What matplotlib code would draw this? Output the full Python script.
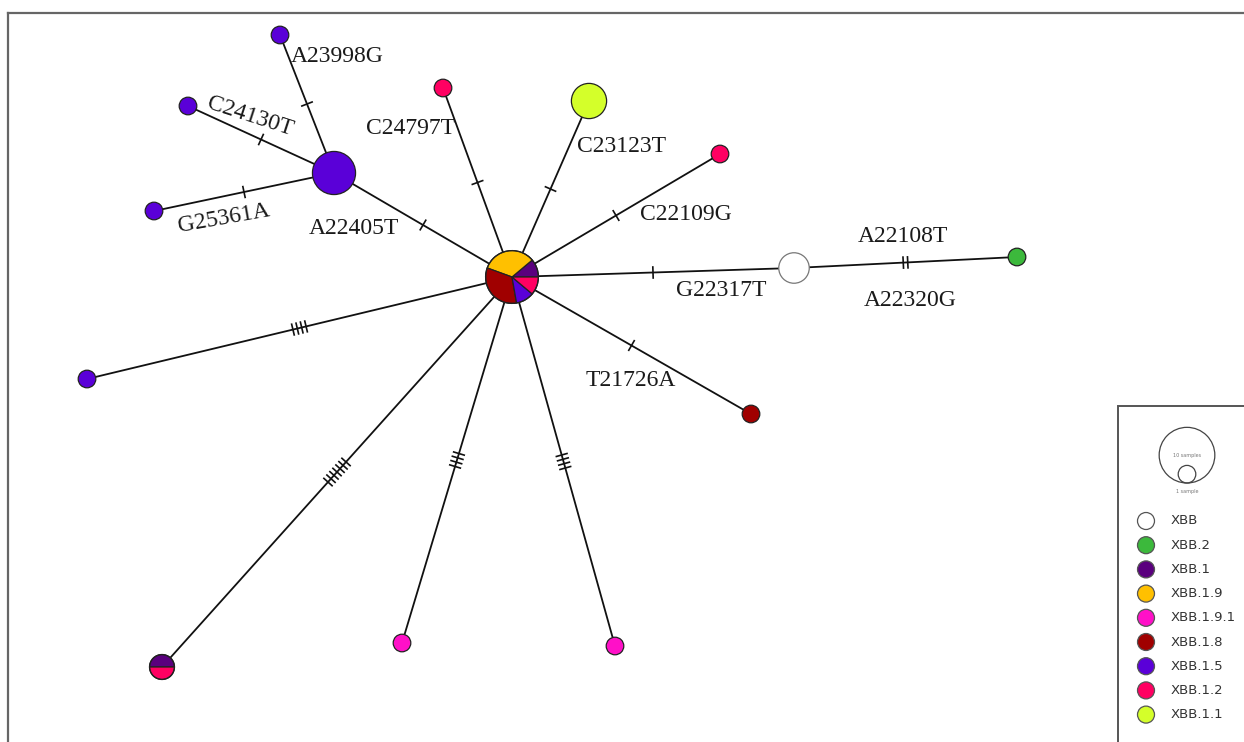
# Haplotype network of XBB lineages
import numpy as np
import matplotlib
matplotlib.use('Agg')
import matplotlib.pyplot as plt
from matplotlib.patches import Circle, Wedge, Rectangle

# Lineages and colours
lineages = ['XBB', 'XBB.2', 'XBB.1', 'XBB.1.9', 'XBB.1.9.1', 'XBB.1.8', 'XBB.1.5', 'XBB.1.2', 'XBB.1.1']
colors = ['#ffffff', '#3cb93c', '#5a007e', '#ffc000', '#ff10c8', '#a00000', '#5a00d8', '#ff0062', '#d4ff2a']

# Haplotype nodes: layout position (pixels) and sample counts per lineage
node_names = ['center', 'hub', 'h23998', 'h24130', 'h25361', 'h24797', 'h23123', 'h22109',
              'h22317', 'h22108', 'h21726', 'far_left', 'bottom_left', 'bottom_mid', 'bottom_right']
node_x = [512, 334, 280, 188, 154, 443, 589, 720, 794, 1017, 751, 87, 162, 402, 615]
node_y = [277, 173, 35, 106, 211, 88, 101, 154, 268, 257, 414, 379, 667, 643, 646]
node_counts = [
    {'XBB.1': 1, 'XBB.1.9': 3, 'XBB.1.8': 3, 'XBB.1.5': 1, 'XBB.1.2': 1},
    {'XBB.1.5': 6},
    {'XBB.1.5': 1},
    {'XBB.1.5': 1},
    {'XBB.1.5': 1},
    {'XBB.1.2': 1},
    {'XBB.1.1': 4},
    {'XBB.1.2': 1},
    {'XBB': 3},
    {'XBB.2': 1},
    {'XBB.1.8': 1},
    {'XBB.1.5': 1},
    {'XBB.1': 1, 'XBB.1.2': 1},
    {'XBB.1.9.1': 1},
    {'XBB.1.9.1': 1},
]

# Edges: (from, to, number of mutations)
edges = [
    ('center', 'hub', 1), ('hub', 'h23998', 1), ('hub', 'h24130', 1), ('hub', 'h25361', 1),
    ('center', 'h24797', 1), ('center', 'h23123', 1), ('center', 'h22109', 1),
    ('center', 'h22317', 1), ('h22317', 'h22108', 2), ('center', 'h21726', 1),
    ('center', 'far_left', 4), ('center', 'bottom_left', 7),
    ('center', 'bottom_mid', 4), ('center', 'bottom_right', 4),
]

# Mutation labels
mut_labels = ['A23998G', 'C24130T', 'G25361A', 'A22405T', 'C24797T', 'C23123T', 'C22109G',
              'A22108T', 'G22317T', 'A22320G', 'T21726A']
mut_x = [337, 250, 224, 354, 411, 622, 686, 903, 721, 910, 631]
mut_y = [56, 117, 219, 229, 128, 146, 214, 236, 291, 300, 381]
mut_rot = [0, -18, 10, 0, 0, 0, 0, 0, 0, 0, 0]

unit_r = 8.8
pos = {n: (x, y) for n, x, y in zip(node_names, node_x, node_y)}
col = dict(zip(lineages, colors))

fig = plt.figure(figsize=(12.44, 7.42), dpi=100)
ax = fig.add_axes([0, 0, 1, 1])
ax.set_xlim(0, 1244)
ax.set_ylim(742, 0)
ax.axis('off')

# frame lines (top and left)
ax.plot([8, 1244], [13, 13], color='#666666', lw=1.6, zorder=1)
ax.plot([8, 8], [13, 742], color='#666666', lw=1.6, zorder=1)

# edges and mutation ticks
for a, b, k in edges:
    (x1, y1), (x2, y2) = pos[a], pos[b]
    ax.plot([x1, x2], [y1, y2], color='#111111', lw=1.3, zorder=2)
    d = np.array([x2 - x1, y2 - y1], dtype=float)
    d /= np.hypot(*d)
    nrm = np.array([-d[1], d[0]])
    mx, my = (x1 + x2) / 2, (y1 + y2) / 2
    for i in range(k):
        off = (i - (k - 1) / 2) * 4.5
        cx, cy = mx + d[0] * off, my + d[1] * off
        ax.plot([cx - nrm[0] * 5.5, cx + nrm[0] * 5.5], [cy - nrm[1] * 5.5, cy + nrm[1] * 5.5],
                color='#111111', lw=1.2, zorder=2)

# nodes (pie charts); display angle goes counter-clockwise, y axis is flipped
for name in node_names:
    counts = node_counts[node_names.index(name)]
    total = sum(counts.values())
    r = unit_r * np.sqrt(total)
    x, y = pos[name]
    if len(counts) == 1:
        lin = list(counts)[0]
        ec = '#777777' if lin == 'XBB' else '#222222'
        ax.add_patch(Circle((x, y), r, facecolor=col[lin], edgecolor=ec, lw=0.9, zorder=3))
        continue
    start = 0.0
    for lin in lineages:
        if lin not in counts:
            continue
        span = 360.0 * counts[lin] / total
        ax.add_patch(Wedge((x, y), r, -(start + span), -start, facecolor=col[lin],
                           edgecolor='#222222', lw=0.9, zorder=3))
        start += span
    ax.add_patch(Circle((x, y), r, facecolor='none', edgecolor='#222222', lw=0.9, zorder=4))

# mutation labels
for t, x, y, rot in zip(mut_labels, mut_x, mut_y, mut_rot):
    ax.text(x, y, t, ha='center', va='center', rotation=rot, fontsize=17,
            family='Liberation Serif', color='#1a1a1a', zorder=5)

# legend
ax.add_patch(Rectangle((1118, 406), 140, 360, facecolor='white', edgecolor='#555555', lw=1.4, zorder=6))
ax.add_patch(Circle((1187, 483 - unit_r * np.sqrt(10)), unit_r * np.sqrt(10), facecolor='none',
                    edgecolor='#444444', lw=0.9, zorder=7))
ax.add_patch(Circle((1187, 483 - unit_r), unit_r, facecolor='none', edgecolor='#444444', lw=0.9, zorder=7))
ax.text(1187, 455, '10 samples', ha='center', va='center', fontsize=3.5, color='#777777', zorder=7)
ax.text(1187, 491, '1 sample', ha='center', va='center', fontsize=3.5, color='#777777', zorder=7)
for i, (lin, c) in enumerate(zip(lineages, colors)):
    yy = 521 + i * 24.2
    ax.add_patch(Circle((1146, yy), 8.5, facecolor=c, edgecolor='#555555', lw=0.9, zorder=7))
    ax.text(1171, yy, lin, ha='left', va='center', fontsize=9.5, color='#333333', zorder=7)

fig.savefig('out.png', dpi=100)
